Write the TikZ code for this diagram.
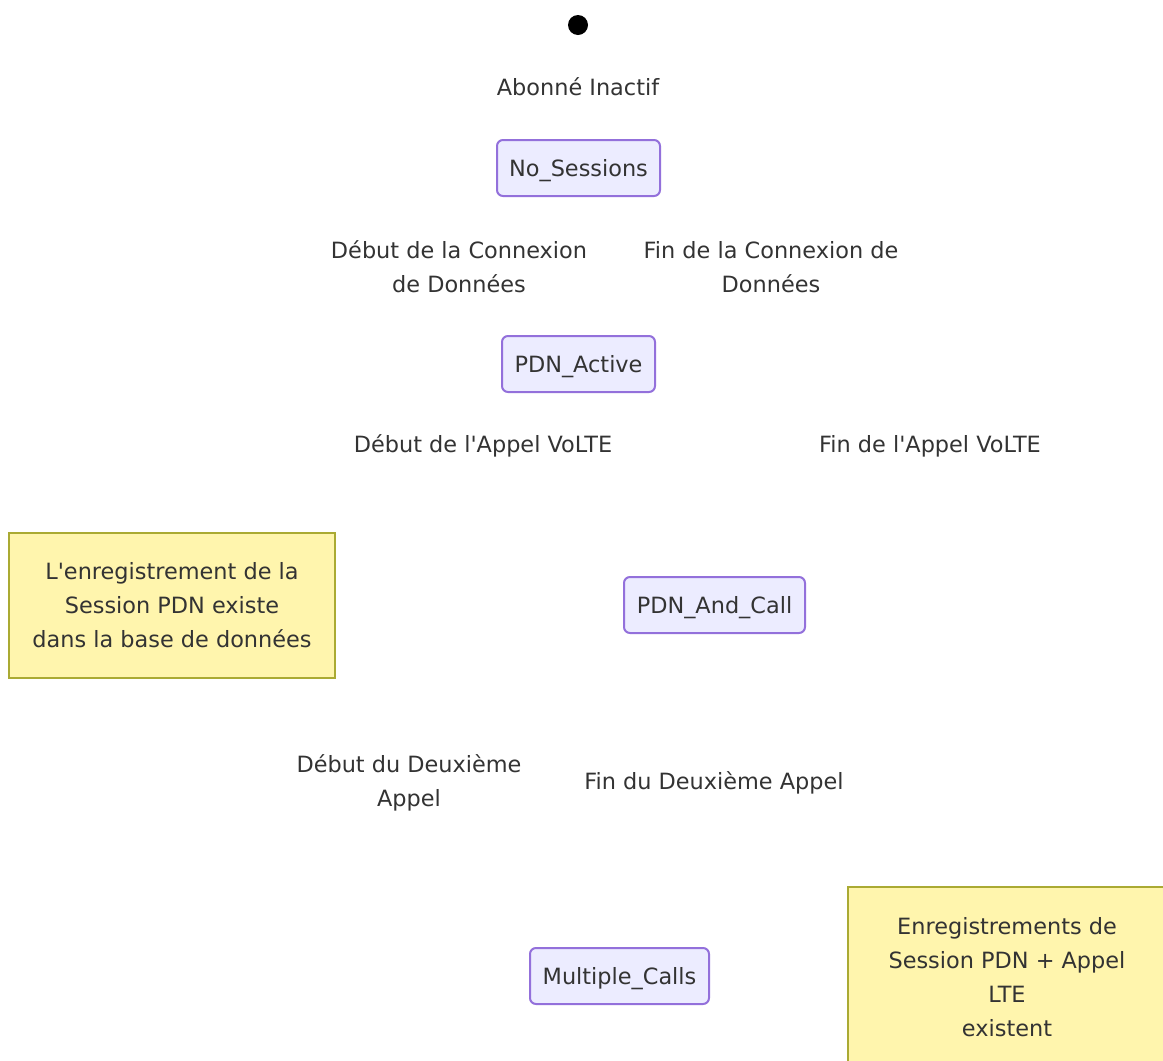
\documentclass[tikz,border=0pt]{standalone}
\usepackage{fontspec}
\setmainfont{DejaVu Sans}
\usetikzlibrary{positioning}
\definecolor{cstate}{HTML}{ECECFF}
\definecolor{cstateline}{HTML}{9370DB}
\definecolor{cnote}{HTML}{FFF5AD}
\definecolor{cnoteline}{HTML}{AAAA33}
\definecolor{ctext}{HTML}{333333}
\tikzset{
  every picture/.style={line width=2pt},
  state/.style={draw=cstateline, fill=cstate, rounded corners=6pt, minimum height=56pt, inner sep=0pt,
    text height=18pt, text depth=1.6pt, text=ctext},
  note/.style={draw=cnoteline, fill=cnote, align=center, inner sep=0pt, text=ctext},
  lbl/.style={align=center, text=ctext, yshift=-2pt},
  start/.style={circle, fill=black, minimum size=20pt, inner sep=0pt},
}
\begin{document}
\begin{tikzpicture}[x=1pt, y=-1pt, every node/.append style={font=\fontsize{22.4}{34}\selectfont}]
  \useasboundingbox (0,0) rectangle (1163,1061);
  \clip (0,0) rectangle (1163,1061);
  \node[start] (init) at (578,25) {};
  \node[lbl] (lidle) at (578,85) {Abonné Inactif};
  \node[state, minimum width=163pt] (nosess) at (578.5,168) {No\_Sessions};
  \node[lbl] (lstartdata) at (459,265) {Début de la Connexion\\de Données};
  \node[lbl] (lenddata) at (771,265) {Fin de la Connexion de\\Données};
  \node[state, minimum width=153pt] (pdnact) at (578.5,364) {PDN\_Active};
  \node[lbl] (lstartcall) at (483,444) {Début de l\textquotesingle Appel VoLTE};
  \node[lbl] (lendcall) at (930,444) {Fin de l\textquotesingle Appel VoLTE};
  \node[note, minimum width=326pt, minimum height=145pt] (note1) at (172,605.5)
    {L\textquotesingle enregistrement de la\\Session PDN existe\\dans la base de données};
  \node[state, minimum width=181pt] (pdncall) at (714.5,605) {PDN\_And\_Call};
  \node[lbl] (lstartsecond) at (409,781) {Début du Deuxième\\Appel};
  \node[lbl] (lendsecond) at (714,781) {Fin du Deuxième Appel};
  \node[state, minimum width=179pt] (multi) at (619.5,976) {Multiple\_Calls};
  \node[note, minimum width=318pt, minimum height=180pt] (note2) at (1007,977)
    {Enregistrements de\\Session PDN + Appel\\LTE\\existent};
\end{tikzpicture}
\end{document}
